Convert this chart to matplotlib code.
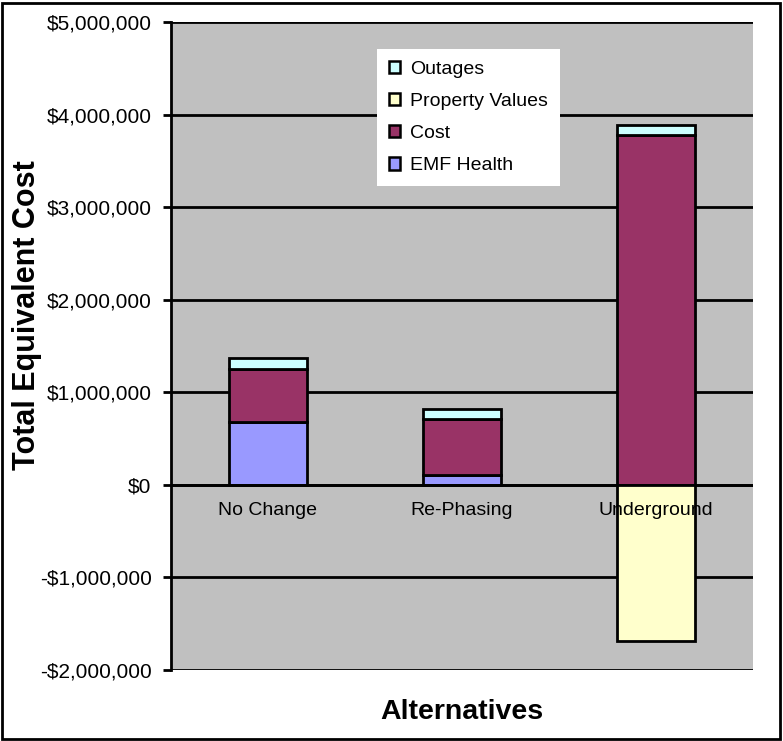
import matplotlib
matplotlib.use('Agg')

import numpy as np
import matplotlib.pyplot as plt
from matplotlib.patches import Rectangle
from matplotlib.ticker import FuncFormatter

plt.rcParams['font.family'] = ['Liberation Sans', 'DejaVu Sans']

# data (dollars)
categories = ['No Change', 'Re-Phasing', 'Underground']
emf_health = [680000, 108000, 0]
cost = [573000, 605000, 3781000]
property_values = [0, 0, -1685000]
outages = [119000, 108000, 108000]

colors = {
    'EMF Health': '#9999FF',
    'Cost': '#993366',
    'Property Values': '#FFFFCC',
    'Outages': '#CCFFFF',
}

fig = plt.figure(figsize=(7.83, 7.41), dpi=100)
ax = fig.add_axes([171 / 783, 1 - 670 / 741, 582 / 783, 648 / 741])
ax.set_facecolor('#C0C0C0')

x = np.arange(len(categories))
w = 0.4
kw = dict(width=w, edgecolor='black', linewidth=2, zorder=3)

emf = np.array(emf_health)
cst = np.array(cost)
pos_top = emf + cst

b_emf = ax.bar(x, emf, color=colors['EMF Health'], label='EMF Health', **kw)
b_cost = ax.bar(x, cst, bottom=emf, color=colors['Cost'], label='Cost', **kw)
b_prop = ax.bar(x, property_values, color=colors['Property Values'],
                label='Property Values', **kw)
b_out = ax.bar(x, outages, bottom=pos_top, color=colors['Outages'],
               label='Outages', **kw)

ax.set_xlim(-0.5, 2.5)
ax.set_ylim(-2000000, 5000000)
ax.set_yticks(np.arange(-2000000, 5000001, 1000000))
ax.yaxis.set_major_formatter(FuncFormatter(
    lambda v, p: ('-$' if v < 0 else '$') + f'{abs(int(v)):,}'))
ax.yaxis.grid(True, color='black', linewidth=2, zorder=1)
ax.set_axisbelow(True)
ax.tick_params(axis='y', direction='out', length=6, width=2, labelsize=15, pad=8)

ax.set_xticks([])
for xi, name in zip(x, categories):
    ax.text(xi, -190000, name, ha='center', va='top', fontsize=14, zorder=5)

for s in ['top', 'right', 'bottom']:
    ax.spines[s].set_visible(False)
ax.spines['left'].set_linewidth(2)
ax.axhline(0, color='black', linewidth=2, zorder=2)

fig.text(27 / 783, 1 - 315 / 741, 'Total Equivalent Cost', fontsize=22,
         fontweight='bold', rotation=90, ha='center', va='center')
fig.text(462 / 783, 1 - 712 / 741, 'Alternatives', fontsize=20.5, fontweight='bold',
         ha='center', va='center')

handles = [b_out, b_prop, b_cost, b_emf]
leg = ax.legend(handles, [h.get_label() for h in handles],
                loc='upper left', bbox_to_anchor=((377 - 171) / 582, 1 - (49 - 22) / 648),
                fontsize=14, frameon=True, fancybox=False, framealpha=1,
                edgecolor='white', handlelength=0.6, handleheight=0.6,
                handletextpad=0.5, labelspacing=0.78, borderpad=0.6, borderaxespad=0)
leg.get_frame().set_linewidth(0)
for p in leg.get_patches():
    p.set_linewidth(1.8)

fig.patches.append(Rectangle((2 / 783, 2 / 741), 778 / 783, 736 / 741,
                             transform=fig.transFigure, fill=False,
                             edgecolor='black', linewidth=2))

fig.savefig('out.png', dpi=100)
